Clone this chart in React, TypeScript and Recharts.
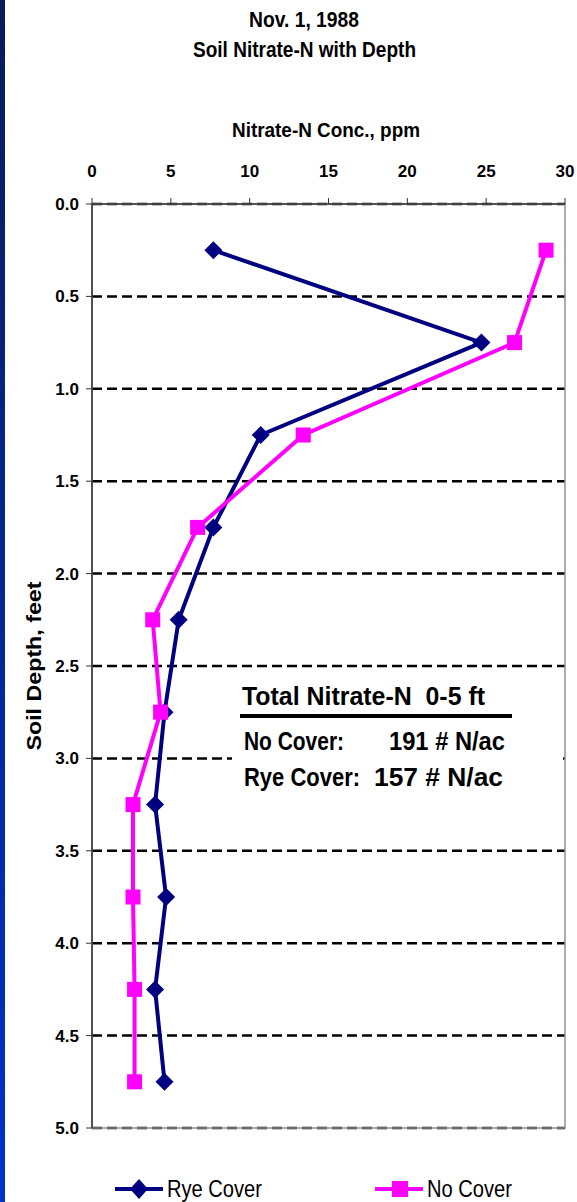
import { LineChart, Line, XAxis, YAxis, CartesianGrid, ReferenceArea } from 'recharts';

const depths = [0.25, 0.75, 1.25, 1.75, 2.25, 2.75, 3.25, 3.75, 4.25, 4.75];
const ryeCover = [7.7, 24.7, 10.7, 7.7, 5.5, 4.6, 4.0, 4.7, 4.0, 4.6];
const noCover = [28.8, 26.8, 13.4, 6.7, 3.85, 4.35, 2.6, 2.6, 2.7, 2.7];
const concTicks = [0, 5, 10, 15, 20, 25, 30];
const depthTicks = [0, 0.5, 1, 1.5, 2, 2.5, 3, 3.5, 4, 4.5, 5];

const data = depths.map((d, i) => ({ depth: d, rye: ryeCover[i], none: noCover[i] }));

const FONT = '"Liberation Sans", Arial, sans-serif';
const NAVY = '#000080';
const PINK = '#ff00ff';

const tickStyle = { fontFamily: FONT, fontSize: 17, fontWeight: 700, fill: '#000' };

const Diamond = (props: any) => {
  const { cx, cy, index } = props;
  return (
    <path
      key={`d-${index}`}
      d={`M${cx},${cy - 9} L${cx + 9},${cy} L${cx},${cy + 9} L${cx - 9},${cy} Z`}
      fill={NAVY}
    />
  );
};

const Square = (props: any) => {
  const { cx, cy, index } = props;
  return <rect key={`s-${index}`} x={cx - 7.5} y={cy - 7.5} width={15} height={15} fill={PINK} />;
};

// narrow, tall text like the original slide
const T = ({ x, y, len, size = 22, bold = true, anchor = 'start', children, transform }: any) => (
  <text
    x={x}
    y={y}
    transform={transform}
    textAnchor={anchor}
    fontSize={size}
    fontWeight={bold ? 700 : 400}
    fontFamily={FONT}
    fill="#000"
    textLength={len}
    lengthAdjust="spacingAndGlyphs"
    style={{ whiteSpace: 'pre' }}
  >
    {children}
  </text>
);

export default function App() {
  return (
    <div style={{ position: 'absolute', left: 0, top: 0, width: 577, height: 1202, background: '#fff', overflow: 'hidden' }}>
      <div style={{ position: 'absolute', left: 0, top: 0, width: 5, height: 1202, background: 'linear-gradient(#0a1a5c, #0033cc)' }} />

      <LineChart
        width={577}
        height={1202}
        data={data}
        layout="vertical"
        margin={{ top: 174, right: 12, bottom: 74, left: 42 }}
        style={{ position: 'absolute', left: 0, top: 0 }}
      >
        <CartesianGrid vertical={false} horizontal stroke="#000" strokeWidth={2.5} strokeDasharray="10 5" />
        <ReferenceArea x1={0} x2={30} y1={0} y2={5} fill="none" stroke="#909090" strokeWidth={1.5} ifOverflow="visible" />
        <XAxis
          type="number"
          orientation="top"
          domain={[0, 30]}
          ticks={concTicks}
          height={30}
          tickSize={6}
          tickMargin={21}
          tick={tickStyle}
          stroke="#333"
          axisLine={{ stroke: '#333', strokeWidth: 1.5 }}
        />
        <YAxis
          type="number"
          dataKey="depth"
          domain={[0, 5]}
          ticks={depthTicks}
          width={50}
          tickSize={6}
          tickMargin={7}
          tick={tickStyle}
          tickFormatter={(v: number) => v.toFixed(1)}
          stroke="#333"
          axisLine={{ stroke: '#333', strokeWidth: 1.5 }}
        />
        <Line dataKey="rye" stroke={NAVY} strokeWidth={4} dot={Diamond} isAnimationActive={false} />
        <Line dataKey="none" stroke={PINK} strokeWidth={4} dot={Square} isAnimationActive={false} />
      </LineChart>

      <svg width={577} height={1202} style={{ position: 'absolute', left: 0, top: 0 }}>
        <T x={304} y={27} len={110} anchor="middle">Nov. 1, 1988</T>
        <T x={304.5} y={57} len={223} anchor="middle">Soil Nitrate-N with Depth</T>
        <T x={326} y={137} len={188} size={21} anchor="middle">Nitrate-N Conc., ppm</T>
        <T x={0} y={0} len={169} size={21} anchor="middle" transform="translate(41,666) rotate(-90)">Soil Depth, feet</T>

        <rect x={232} y={676} width={331} height={122} fill="#fff" />
        <T x={242} y={705} len={243} size={25.5}>Total Nitrate-N  0-5 ft</T>
        <rect x={240} y={714} width={272} height={4} fill="#000" />
        <T x={244} y={750} len={100} size={25.5}>No Cover:</T>
        <T x={389} y={750} len={116} size={25.5}>191 # N/ac</T>
        <T x={244} y={786} len={116} size={25.5}>Rye Cover:</T>
        <T x={374} y={786} len={129} size={25.5}>157 # N/ac</T>

        <line x1={115} x2={163} y1={1189} y2={1189} stroke={NAVY} strokeWidth={4} />
        <path d="M139,1179 L148,1189 L139,1199 L130,1189 Z" fill={NAVY} />
        <T x={167} y={1197} len={95} size={23} bold={false}>Rye Cover</T>
        <line x1={375} x2={423} y1={1189} y2={1189} stroke={PINK} strokeWidth={4} />
        <rect x={392} y={1181} width={16} height={16} fill={PINK} />
        <T x={427} y={1197} len={85} size={23} bold={false}>No Cover</T>
      </svg>
    </div>
  );
}
